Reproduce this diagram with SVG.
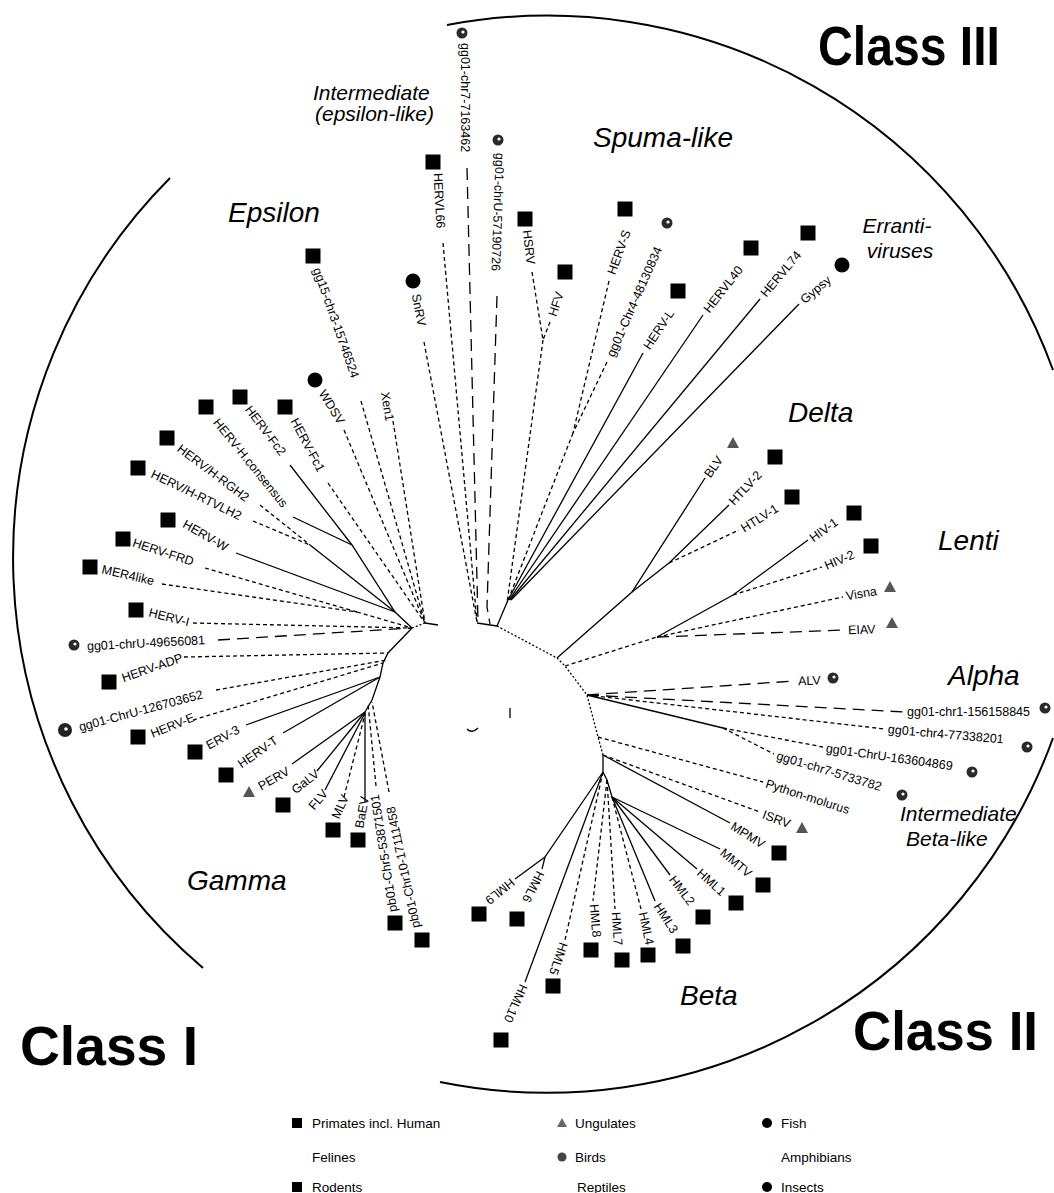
<svg xmlns="http://www.w3.org/2000/svg" width="1054" height="1193" viewBox="0 0 1054 1193">
<style>
.c{stroke:#000;stroke-width:1.3;fill:none}
.d{stroke-dasharray:4 3}
.ld{stroke-dasharray:12 7}
.dt{stroke-dasharray:2 2}
.arc{stroke:#000;stroke-width:2;fill:none}
.lb{font-family:"Liberation Sans",Arial,sans-serif;font-size:12.5px;fill:#000}
.cl{font-family:"Liberation Sans",Arial,sans-serif;font-size:28px;font-style:italic;fill:#000}
.ci{font-family:"Liberation Sans",Arial,sans-serif;font-size:21px;font-style:italic;fill:#000}
.big{font-family:"Liberation Sans",Arial,sans-serif;font-size:55px;font-weight:bold;fill:#000}
.lg{font-family:"Liberation Sans",Arial,sans-serif;font-size:13.5px;fill:#000}
</style>
<defs>
<rect id="sq" x="-7.5" y="-7.5" width="15" height="15" fill="#000"/>
<circle id="ci" r="7.5" fill="#000"/>
<g id="bd"><circle r="5.5" fill="#2a2a2a"/><circle cx="1" cy="-1" r="1.6" fill="#fff"/></g>
<path id="tri" d="M0,-6 L6,5 L-6,5 Z" fill="#555"/>
</defs>
<rect width="1054" height="1193" fill="#fff"/>

<g id="arcs">
<path class="arc" d="M170,178 A538,538 0 0 0 203,968"/>
<path class="arc" d="M447,25 A538,538 0 0 1 1053,370"/>
<path class="arc" d="M1053,738 A538,538 0 0 1 440,1082"/>
</g>

<g id="connectors">
<path class="c dt" d="M412,628 L425,623"/>
<path class="c" d="M425,623 L438,625"/>
<path class="c" d="M477,623 L497,626"/>
<path class="c dt" d="M497,626 L557,658 L565,666 L587,695 L598,737 L603,755"/>
<path class="c" d="M603,755 L603,772 L607,780 L612,797"/>
<path class="c d" d="M361,401 L425,623"/>
<path class="c d" d="M344,430 L425,623"/>
<path class="c d" d="M393,421 L425,623"/>
<path class="c d" d="M328,483 L425,623"/>
<path class="c d" d="M424,342 L477,622"/>
<path class="c d" d="M443,243 L477,622"/>
<path class="c ld" d="M467,168 L478,622"/>
<path class="c ld" d="M497,296 L487,607 L490,624"/>
<path class="c d" d="M532,272 L543,340"/>
<path class="c d" d="M550,322 L543,340"/>
<path class="c d" d="M543,340 L507,603"/>
<path class="c d" d="M609,281 L573,433"/>
<path class="c d" d="M607,362 L573,433"/>
<path class="c d" d="M573,433 L507,603"/>
<path class="c" d="M643,353 L508,600"/>
<path class="c" d="M703,315 L509,600"/>
<path class="c" d="M760,299 L510,600"/>
<path class="c" d="M799,304 L511,600"/>
<path class="c" d="M508,600 L497,626"/>
<path class="c" d="M557,658 L632,592 L705,478"/>
<path class="c" d="M632,592 L669,563 L729,505"/>
<path class="c d" d="M669,563 L739,530"/>
<path class="c d" d="M565,666 L657,637"/>
<path class="c" d="M657,637 L733,595 L808,540"/>
<path class="c d" d="M733,595 L822,567"/>
<path class="c d" d="M657,637 L843,597"/>
<path class="c ld" d="M657,637 L845,630"/>
<path class="c ld" d="M587,695 L795,681"/>
<path class="c ld" d="M587,695 L905,712"/>
<path class="c d" d="M587,695 L885,729"/>
<path class="c" d="M587,695 L723,728"/>
<path class="c d" d="M723,728 L823,747"/>
<path class="c d" d="M723,728 L774,754"/>
<path class="c d" d="M598,737 L763,782"/>
<path class="c d" d="M603,755 L760,812"/>
<path class="c" d="M603,755 L730,823"/>
<path class="c" d="M612,797 L720,849"/>
<path class="c" d="M612,797 L697,869"/>
<path class="c" d="M612,797 L670,875"/>
<path class="c" d="M612,797 L655,901"/>
<path class="c d" d="M612,797 L641,909"/>
<path class="c d" d="M607,780 L615,909"/>
<path class="c d" d="M607,780 L593,901"/>
<path class="c d" d="M603,772 L565,940"/>
<path class="c" d="M603,772 L525,982"/>
<path class="c" d="M603,772 L545,857 L542,869"/>
<path class="c" d="M545,857 L515,879"/>
<path class="c" d="M412,628 L388,653 L383,663 L380,677 L372,700 L365,712"/>
<path class="c d" d="M389,792 L372,702"/>
<path class="c d" d="M376,786 L368,703"/>
<path class="c" d="M365,802 L365,712"/>
<path class="c d" d="M344,797 L365,714"/>
<path class="c" d="M325,790 L365,713"/>
<path class="c" d="M317,771 L365,712"/>
<path class="c" d="M292,764 L365,712"/>
<path class="c" d="M283,733 L380,677"/>
<path class="c" d="M246,725 L380,677"/>
<path class="c d" d="M193,720 L383,663"/>
<path class="c d" d="M216,690 L387,660"/>
<path class="c d" d="M184,657 L388,653"/>
<path class="c ld" d="M218,640 L412,628"/>
<path class="c d" d="M193,623 L412,628"/>
<path class="c d" d="M162,584 L357,612"/>
<path class="c d" d="M205,568 L357,612"/>
<path class="c d" d="M357,612 L412,628"/>
<path class="c" d="M236,553 L395,612"/>
<path class="c d" d="M253,521 L310,545"/>
<path class="c d" d="M260,505 L310,545"/>
<path class="c" d="M310,545 L395,612"/>
<path class="c" d="M293,517 L352,545"/>
<path class="c" d="M290,465 L352,545 L395,612 L412,628"/>
<path class="c" d="M510,708 L510,718"/>
<path class="c" d="M467,729 Q472,734 478,728"/>
</g>

<g id="clade-labels">
<text class="ci" x="313" y="100">Intermediate</text>
<text class="ci" x="315" y="121">(epsilon-like)</text>
<text class="cl" x="228" y="222">Epsilon</text>
<text class="cl" x="593" y="147">Spuma-like</text>
<text class="ci" x="897" y="233" text-anchor="middle">Erranti-</text>
<text class="ci" x="900" y="258" text-anchor="middle">viruses</text>
<text class="cl" x="788" y="422">Delta</text>
<text class="cl" x="938" y="550">Lenti</text>
<text class="cl" x="948" y="685">Alpha</text>
<text class="ci" x="900" y="821">Intermediate</text>
<text class="ci" x="906" y="846">Beta-like</text>
<text class="cl" x="187" y="890">Gamma</text>
<text class="cl" x="680" y="1005">Beta</text>
<text class="big" x="818" y="65" textLength="182" lengthAdjust="spacingAndGlyphs">Class III</text>
<text class="big" x="20" y="1065" textLength="178" lengthAdjust="spacingAndGlyphs">Class I</text>
<text class="big" x="853" y="1050" textLength="185" lengthAdjust="spacingAndGlyphs">Class II</text>
</g>

<g id="n-gg15"><use href="#sq" x="313" y="256"/><text class="lb" dy=".35em" transform="translate(317,268) rotate(70.6)">gg15-chr3-15746524</text></g>
<g id="n-SnRV"><use href="#ci" x="413" y="281"/><text class="lb" dy=".35em" transform="translate(416,294) rotate(79)">SnRV</text></g>
<g id="n-HERVL66"><use href="#sq" x="433" y="162"/><text class="lb" dy=".35em" transform="translate(438,173) rotate(87)">HERVL66</text></g>
<g id="n-gg01-chr7-7163462"><use href="#bd" x="462" y="33"/><text class="lb" dy=".35em" transform="translate(465,43) rotate(90)">gg01-chr7-7163462</text></g>
<g id="n-gg01-chrU-57190726"><use href="#bd" x="498" y="140"/><text class="lb" dy=".35em" transform="translate(500,153) rotate(92)">gg01-chrU-57190726</text></g>
<g id="n-HSRV"><use href="#sq" x="525" y="219"/><text class="lb" dy=".35em" transform="translate(527,230) rotate(83)">HSRV</text></g>
<g id="n-HFV"><use href="#sq" x="565" y="272"/><text class="lb" dy=".35em" transform="translate(552,316) rotate(-72)">HFV</text></g>
<g id="n-HERV-S"><use href="#sq" x="625" y="209"/><text class="lb" dy=".35em" transform="translate(611,274) rotate(-70)">HERV-S</text></g>
<g id="n-gg01-Chr4-48130834"><use href="#bd" x="667" y="223"/><text class="lb" dy=".35em" transform="translate(610,356) rotate(-66)">gg01-Chr4-48130834</text></g>
<g id="n-HERV-L"><use href="#sq" x="678" y="291"/><text class="lb" dy=".35em" transform="translate(646,348) rotate(-56)">HERV-L</text></g>
<g id="n-HERVL40"><use href="#sq" x="751" y="248"/><text class="lb" dy=".35em" transform="translate(706,311) rotate(-52)">HERVL40</text></g>
<g id="n-HERVL74"><use href="#sq" x="808" y="233"/><text class="lb" dy=".35em" transform="translate(763,295) rotate(-50)">HERVL74</text></g>
<g id="n-Gypsy"><use href="#ci" x="842" y="265"/><text class="lb" dy=".35em" transform="translate(802,301) rotate(-40)">Gypsy</text></g>

<g id="n-BLV"><use href="#tri" x="733" y="443"/><text class="lb" dy=".35em" transform="translate(707,476) rotate(-55)">BLV</text></g>
<g id="n-HTLV-2"><use href="#sq" x="775" y="457"/><text class="lb" dy=".35em" transform="translate(731,503) rotate(-47)">HTLV-2</text></g>
<g id="n-HTLV-1"><use href="#sq" x="792" y="497"/><text class="lb" dy=".35em" transform="translate(742,529) rotate(-32)">HTLV-1</text></g>
<g id="n-HIV-1"><use href="#sq" x="854" y="513"/><text class="lb" dy=".35em" transform="translate(811,539) rotate(-36)">HIV-1</text></g>
<g id="n-HIV-2"><use href="#sq" x="871" y="546"/><text class="lb" dy=".35em" transform="translate(825,566) rotate(-23)">HIV-2</text></g>
<g id="n-Visna"><use href="#tri" x="890" y="587"/><text class="lb" dy=".35em" transform="translate(846,596) rotate(-10)">Visna</text></g>
<g id="n-EIAV"><use href="#tri" x="892" y="623"/><text class="lb" dy=".35em" transform="translate(848,630) rotate(-2)">EIAV</text></g>

<g id="n-ALV"><use href="#bd" x="833" y="678"/><text class="lb" dy=".35em" transform="translate(798,681) rotate(-2)">ALV</text></g>
<g id="n-gg01-chr1-156158845"><use href="#bd" x="1045" y="708"/><text class="lb" dy=".35em" transform="translate(907,712) rotate(0)">gg01-chr1-156158845</text></g>
<g id="n-gg01-chr4-77338201"><use href="#bd" x="1027" y="747"/><text class="lb" dy=".35em" transform="translate(888,729) rotate(5)">gg01-chr4-77338201</text></g>
<g id="n-gg01-ChrU-163604869"><use href="#bd" x="972" y="772"/><text class="lb" dy=".35em" transform="translate(826,748) rotate(8)">gg01-ChrU-163604869</text></g>
<g id="n-gg01-chr7-5733782"><use href="#bd" x="902" y="795"/><text class="lb" dy=".35em" transform="translate(777,755) rotate(17)">gg01-chr7-5733782</text></g>
<g id="n-Python-molurus"><text class="lb" dy=".35em" transform="translate(766,783) rotate(18)">Python-molurus</text></g>

<g id="n-ISRV"><use href="#tri" x="802" y="828"/><text class="lb" dy=".35em" transform="translate(763,814) rotate(20)">ISRV</text></g>
<g id="n-MPMV"><use href="#sq" x="779" y="853"/><text class="lb" dy=".35em" transform="translate(732,825) rotate(32)">MPMV</text></g>
<g id="n-MMTV"><use href="#sq" x="763" y="885"/><text class="lb" dy=".35em" transform="translate(722,851) rotate(40)">MMTV</text></g>
<g id="n-HML1"><use href="#sq" x="736" y="903"/><text class="lb" dy=".35em" transform="translate(699,871) rotate(42)">HML1</text></g>
<g id="n-HML2"><use href="#sq" x="703" y="917"/><text class="lb" dy=".35em" transform="translate(672,877) rotate(53)">HML2</text></g>
<g id="n-HML3"><use href="#sq" x="683" y="946"/><text class="lb" dy=".35em" transform="translate(657,904) rotate(57)">HML3</text></g>
<g id="n-HML4"><use href="#sq" x="648" y="955"/><text class="lb" dy=".35em" transform="translate(643,912) rotate(78)">HML4</text></g>
<g id="n-HML7"><use href="#sq" x="622" y="960"/><text class="lb" dy=".35em" transform="translate(616,912) rotate(86)">HML7</text></g>
<g id="n-HML8"><use href="#sq" x="591" y="950"/><text class="lb" dy=".35em" transform="translate(594,904) rotate(85)">HML8</text></g>
<g id="n-HML5"><use href="#sq" x="553" y="986"/><text class="lb" dy=".35em" transform="translate(564,943) rotate(109)">HML5</text></g>
<g id="n-HML10"><use href="#sq" x="501" y="1040"/><text class="lb" dy=".35em" transform="translate(524,985) rotate(114)">HML10</text></g>
<g id="n-HML6"><use href="#sq" x="517" y="919"/><text class="lb" dy=".35em" transform="translate(541,872) rotate(117)">HML6</text></g>
<g id="n-HML9"><use href="#sq" x="479" y="914"/><text class="lb" dy=".35em" transform="translate(513,881) rotate(141)">HML9</text></g>

<g id="n-pb01-Chr10"><use href="#sq" x="422" y="940"/><text class="lb" dy=".35em" transform="translate(416,928) rotate(-102)">pb01-Chr10-17111458</text></g>
<g id="n-pb01-Chr5"><use href="#sq" x="395" y="923"/><text class="lb" dy=".35em" transform="translate(393,912) rotate(-99)">pb01-Chr5-53871501</text></g>
<g id="n-BaEV"><use href="#sq" x="358" y="840"/><text class="lb" dy=".35em" transform="translate(359,828) rotate(-80)">BaEV</text></g>
<g id="n-MLV"><use href="#sq" x="333" y="830"/><text class="lb" dy=".35em" transform="translate(335,818) rotate(-66)">MLV</text></g>
<g id="n-FLV"><text class="lb" dy=".35em" transform="translate(311,808) rotate(-50)">FLV</text></g>
<g id="n-GaLV"><use href="#sq" x="283" y="805"/><text class="lb" dy=".35em" transform="translate(293,791) rotate(-38)">GaLV</text></g>
<g id="n-PERV"><use href="#tri" x="249" y="792"/><text class="lb" dy=".35em" transform="translate(259,787) rotate(-30)">PERV</text></g>
<g id="n-HERV-T"><use href="#sq" x="226" y="775"/><text class="lb" dy=".35em" transform="translate(239,765) rotate(-35)">HERV-T</text></g>
<g id="n-ERV-3"><use href="#sq" x="195" y="752"/><text class="lb" dy=".35em" transform="translate(207,746) rotate(-29)">ERV-3</text></g>
<g id="n-HERV-E"><use href="#sq" x="138" y="737"/><text class="lb" dy=".35em" transform="translate(151,734) rotate(-22)">HERV-E</text></g>
<g id="n-gg01-ChrU-126703652"><circle cx="65" cy="730" r="7" fill="#222"/><circle cx="66" cy="729" r="1.8" fill="#fff"/><text class="lb" dy=".35em" transform="translate(79,727) rotate(-15)">gg01-ChrU-126703652</text></g>
<g id="n-HERV-ADP"><use href="#sq" x="109" y="682"/><text class="lb" dy=".35em" transform="translate(122,678) rotate(-19)">HERV-ADP</text></g>
<g id="n-gg01-chrU-49656081"><use href="#bd" x="74" y="645"/><text class="lb" dy=".35em" transform="translate(87,646) rotate(-3)">gg01-chrU-49656081</text></g>
<g id="n-HERV-I"><use href="#sq" x="136" y="610"/><text class="lb" dy=".35em" transform="translate(149,612) rotate(14)">HERV-I</text></g>
<g id="n-MER4like"><use href="#sq" x="90" y="567"/><text class="lb" dy=".35em" transform="translate(102,569) rotate(13)">MER4like</text></g>
<g id="n-HERV-FRD"><use href="#sq" x="123" y="539"/><text class="lb" dy=".35em" transform="translate(133,542) rotate(18)">HERV-FRD</text></g>
<g id="n-HERV-W"><use href="#sq" x="168" y="520"/><text class="lb" dy=".35em" transform="translate(184,523) rotate(30)">HERV-W</text></g>
<g id="n-HERV-H-RTVLH2"><use href="#sq" x="138" y="468"/><text class="lb" dy=".35em" transform="translate(152,473) rotate(26)">HERV/H-RTVLH2</text></g>
<g id="n-HERV-H-RGH2"><use href="#sq" x="167" y="438"/><text class="lb" dy=".35em" transform="translate(179,447) rotate(37)">HERV/H-RGH2</text></g>
<g id="n-HERV-H-consensus"><use href="#sq" x="206" y="407"/><text class="lb" dy=".35em" transform="translate(216,420) rotate(51)">HERV-H.consensus</text></g>
<g id="n-HERV-Fc2"><use href="#sq" x="240" y="397"/><text class="lb" dy=".35em" transform="translate(248,407) rotate(53)">HERV-Fc2</text></g>
<g id="n-HERV-Fc1"><use href="#sq" x="285" y="407"/><text class="lb" dy=".35em" transform="translate(294,419) rotate(62)">HERV-Fc1</text></g>
<g id="n-WDSV"><use href="#ci" x="315" y="380"/><text class="lb" dy=".35em" transform="translate(322,391) rotate(58)">WDSV</text></g>
<g id="n-Xen1"><text class="lb" dy=".35em" transform="translate(385,392) rotate(80)">Xen1</text></g>

<g id="legend">
<rect x="292" y="1118" width="10" height="10" fill="#000"/>
<text class="lg" x="312" y="1128">Primates incl. Human</text>
<text class="lg" x="312" y="1162">Felines</text>
<rect x="292" y="1182" width="10" height="10" fill="#000"/>
<text class="lg" x="312" y="1192">Rodents</text>
<path d="M562,1118 L567,1127 L557,1127 Z" fill="#666"/>
<text class="lg" x="575" y="1128">Ungulates</text>
<circle cx="562" cy="1157" r="4.5" fill="#444"/>
<text class="lg" x="575" y="1162">Birds</text>
<text class="lg" x="577" y="1192">Reptiles</text>
<circle cx="767" cy="1123" r="5" fill="#000"/>
<text class="lg" x="781" y="1128">Fish</text>
<text class="lg" x="781" y="1162">Amphibians</text>
<circle cx="767" cy="1187" r="5" fill="#000"/>
<text class="lg" x="781" y="1192">Insects</text>
</g>
</svg>
